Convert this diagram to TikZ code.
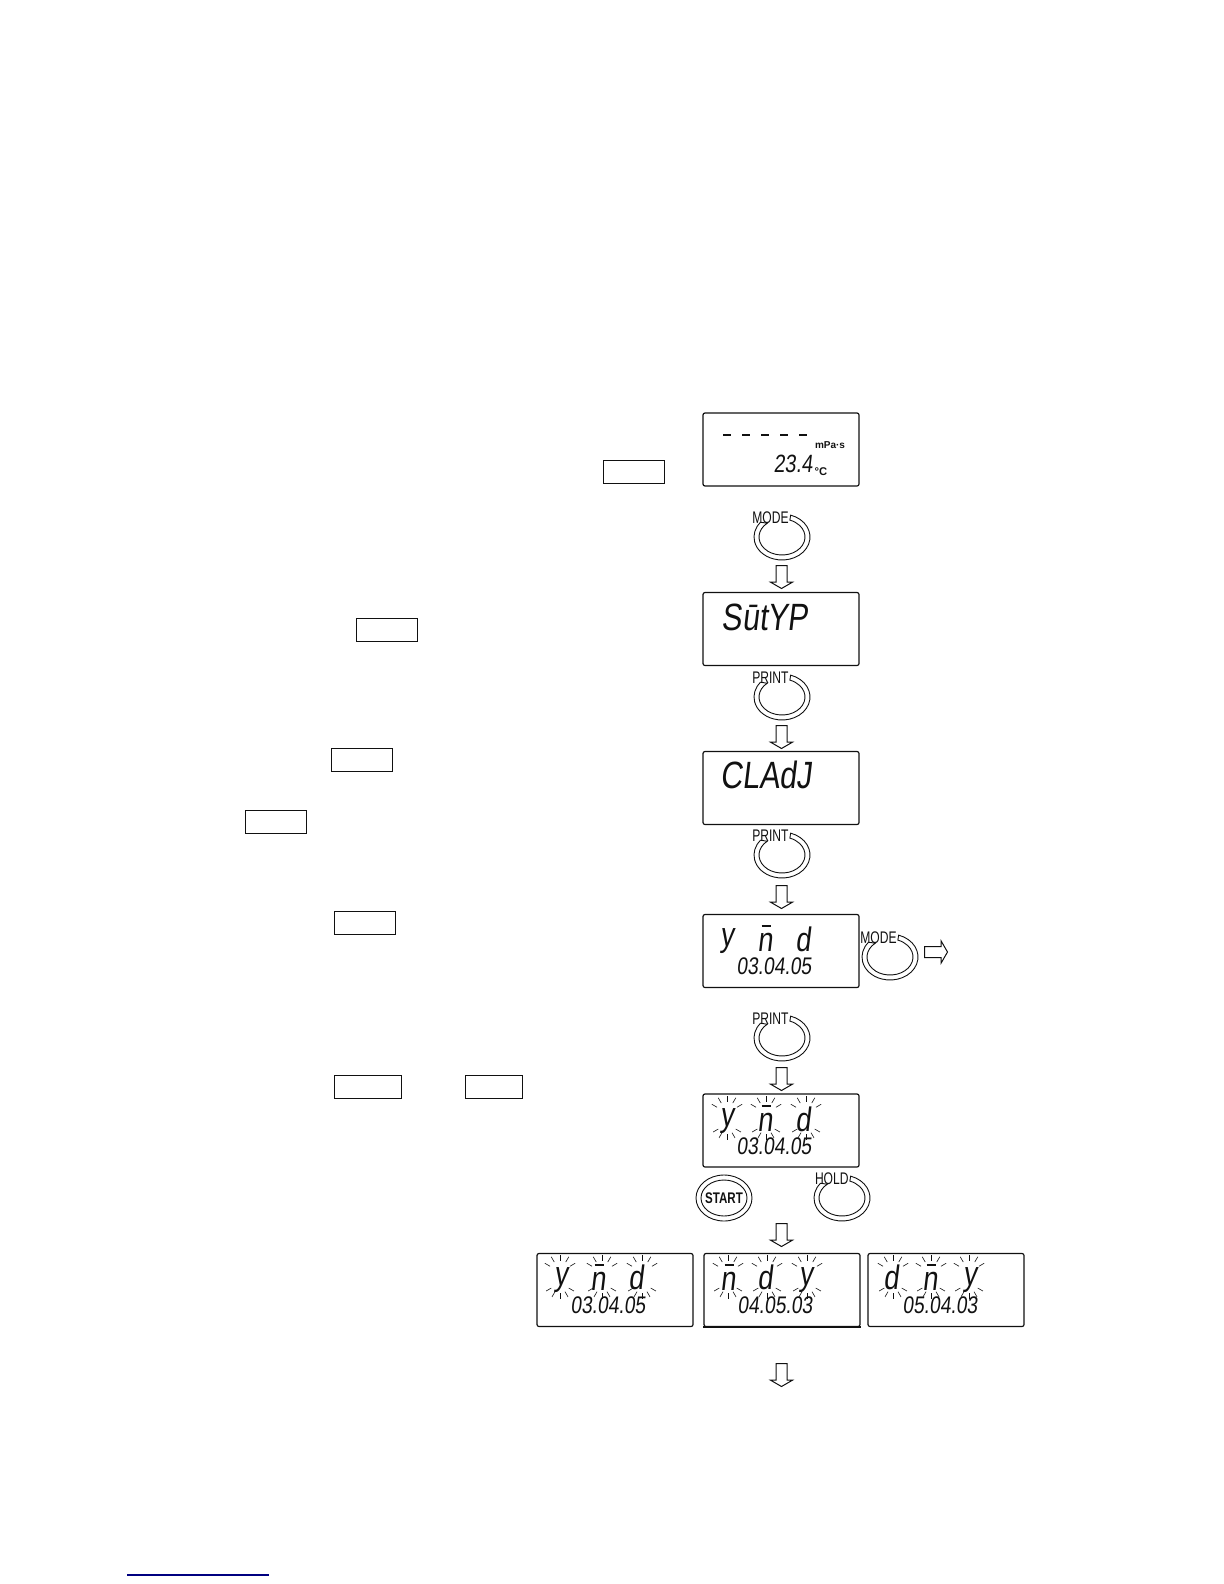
\documentclass[tikz,border=0pt]{standalone}
\usepackage{fontspec}
\setmainfont{Liberation Sans}
\newfontfamily\lcdfont[FakeSlant=0.12,FakeStretch=0.8]{Liberation Sans}
\newfontfamily\keyfont[FakeStretch=0.72]{Liberation Sans}
\usetikzlibrary{shapes.arrows}
\definecolor{ink}{HTML}{111111}
\definecolor{linkblue}{HTML}{000080}
\tikzset{
  lcdbox/.style={draw=ink,line width=0.6pt,rounded corners=1pt,inner sep=0pt,minimum width=78pt,minimum height=36.5pt},
  keybox/.style={draw=ink,line width=0.7pt,inner sep=0pt,minimum height=11.5pt},
  lcdbig/.style={font=\lcdfont\fontsize{19}{19}\selectfont,text=ink,inner sep=0pt,anchor=base},
  lcdchar/.style={font=\lcdfont\fontsize{17}{17}\selectfont,text=ink,inner sep=0pt,anchor=base},
  lcddate/.style={font=\lcdfont\fontsize{12}{12}\selectfont,text=ink,inner sep=0pt},
  keylabel/.style={font=\keyfont\fontsize{8.4}{8.4}\selectfont,text=ink,inner sep=0pt,anchor=east},
  keyline/.style={draw=ink,line width=0.45pt},
  flashray/.style={draw=ink,line width=0.3pt},
  downarrow/.style={draw=ink,line width=0.5pt,single arrow,shape border rotate=270,anchor=tail,inner sep=2.5pt,
    minimum height=11.5pt,minimum width=10.5pt,single arrow head extend=2.75pt,single arrow tip angle=120},
  rightarrow/.style={downarrow,shape border rotate=0}
}
\newcommand{\dialkey}[4]{
  \draw[keyline] (#2,#3) ++(72:14pt and 11.5pt) arc[start angle=72,end angle=-220,x radius=14pt,y radius=11.5pt]
    -- ([shift={(-230:11.5pt and 9pt)}]#2,#3) arc[start angle=-230,end angle=70,x radius=11.5pt,y radius=9pt] -- cycle;
  \node[keylabel] (#1) at (#2+7,#3-19) {#4};
}
\newcommand{\lcdflash}[2]{
  \foreach \ang in {30,60,90,120,150} {
    \draw[flashray] (#1,#2+19) ++(-\ang:11.5) -- ++(-\ang:6);
    \draw[flashray] (#1,#2+30) ++(\ang:10) -- ++(\ang:6);
  }
}
\newcommand{\lcdbar}[2]{
  \draw[ink,line width=0.9pt] (#1-4.5,#2-25) -- (#1+4.5,#2-25);
}
\begin{document}
\begin{tikzpicture}[x=0.5pt,y=-0.5pt]
  \useasboundingbox (0,0) rectangle (1224,1584);

  \node[keybox,minimum width=30.5pt] (modebox) at (634,472) {};
  \node[keybox,minimum width=30.5pt] (printboxa) at (387,630) {};
  \node[keybox,minimum width=30.5pt] (printboxb) at (362,760) {};
  \node[keybox,minimum width=30.5pt] (modeboxb) at (276,822) {};
  \node[keybox,minimum width=30.5pt] (printboxc) at (365,923) {};
  \node[keybox,minimum width=33.5pt] (startbox) at (368,1087) {};
  \node[keybox,minimum width=28.5pt] (holdbox) at (494,1087) {};

  % measure screen
  \node[lcdbox] (screena) at (781,449.5) {};
  \draw[ink,line width=1pt,dash pattern=on 4.2pt off 5.3pt] (723,435) -- (808,435);
  \node[font=\bfseries\fontsize{5}{5}\selectfont,text=ink,inner sep=0pt] (unitvisc) at (830,445) {mPa·s};
  \node[lcddate,font=\lcdfont\fontsize{12.5}{12.5}\selectfont] (tempval) at (793,464) {23.4};
  \node[font=\bfseries\fontsize{5.6}{5.6}\selectfont,text=ink,inner sep=0pt] (tempunit) at (821,472) {°C};

  \dialkey{keya}{782}{537}{MODE}
  \node[downarrow] (arrowa) at (781.5,565) {};

  % function screens
  \node[lcdbox] (screenb) at (781,629) {};
  \node[lcdbig] (typeword) at (765,630) {SūtYP};
  \dialkey{keyb}{782}{697}{PRINT}
  \node[downarrow] (arrowb) at (781.5,725) {};

  \node[lcdbox] (screenc) at (781,788) {};
  \node[lcdbig] (adjword) at (766,788) {CLAdJ};
  \dialkey{keyc}{782}{855}{PRINT}
  \node[downarrow] (arrowc) at (781.5,885) {};

  % date format screens
  \node[lcdbox] (screend) at (781,951) {};
  \node[lcdchar] (dy) at (727,946) {y};
  \node[lcdchar] (dm) at (765,951) {n};
  \lcdbar{766}{951}
  \node[lcdchar] (dd) at (803,951) {d};
  \node[lcddate] (ddate) at (774,966) {03.04.05};
  \dialkey{keyd}{890}{957}{MODE}
  \node[rightarrow] (arrowd) at (924,952) {};
  \dialkey{keye}{782}{1038}{PRINT}
  \node[downarrow] (arrowe) at (781.5,1067) {};

  \node[lcdbox] (screene) at (781,1130.5) {};
  \node[lcdchar] (ey) at (727,1126) {y};
  \node[lcdchar] (em) at (765,1131) {n};
  \lcdbar{766}{1131}
  \node[lcdchar] (ed) at (803,1131) {d};
  \node[lcddate] (edate) at (774,1146) {03.04.05};
  \foreach \x in {727,766,806} {\lcdflash{\x}{1094}}

  \draw[keyline] (724,1198) ellipse (14pt and 11.5pt);
  \draw[keyline] (724,1198) ellipse (11.5pt and 9pt);
  \node[font=\bfseries\fontsize{7.7}{7.7}\selectfont,inner sep=0pt,xscale=0.75,text=ink] (startkey) at (724,1198) {START};
  \dialkey{keyf}{842}{1198}{HOLD}
  \node[downarrow] (arrowf) at (781.5,1223) {};

  \node[lcdbox] (screenf) at (615,1290) {};
  \node[lcdchar] (fy) at (561,1285) {y};
  \node[lcdchar] (fm) at (598,1290) {n};
  \lcdbar{599}{1290}
  \node[lcdchar] (fd) at (636,1289) {d};
  \node[lcddate] (fdate) at (608,1305) {03.04.05};
  \foreach \x in {560,602,642} {\lcdflash{\x}{1253}}

  \node[lcdbox] (screeng) at (782,1290) {};
  \draw[ink,line width=1pt] (screeng.south west) -- (screeng.south east);
  \node[lcdchar] (gm) at (728,1290) {n};
  \lcdbar{729}{1290}
  \node[lcdchar] (gd) at (765,1289) {d};
  \node[lcdchar] (gy) at (806,1285) {y};
  \node[lcddate] (gdate) at (775,1305) {04.05.03};
  \foreach \x in {728,767,807} {\lcdflash{\x}{1253}}

  \node[lcdbox] (screenh) at (946,1290) {};
  \node[lcdchar] (hd) at (891,1289) {d};
  \node[lcdchar] (hm) at (930,1290) {n};
  \lcdbar{931}{1290}
  \node[lcdchar] (hy) at (970,1285) {y};
  \node[lcddate] (hdate) at (940,1305) {05.04.03};
  \foreach \x in {893,931,969} {\lcdflash{\x}{1253}}

  \node[downarrow] (arrowg) at (781.5,1363) {};

  \draw[linkblue,line width=0.6pt] (127,1575) -- (269,1575);
\end{tikzpicture}
\end{document}
